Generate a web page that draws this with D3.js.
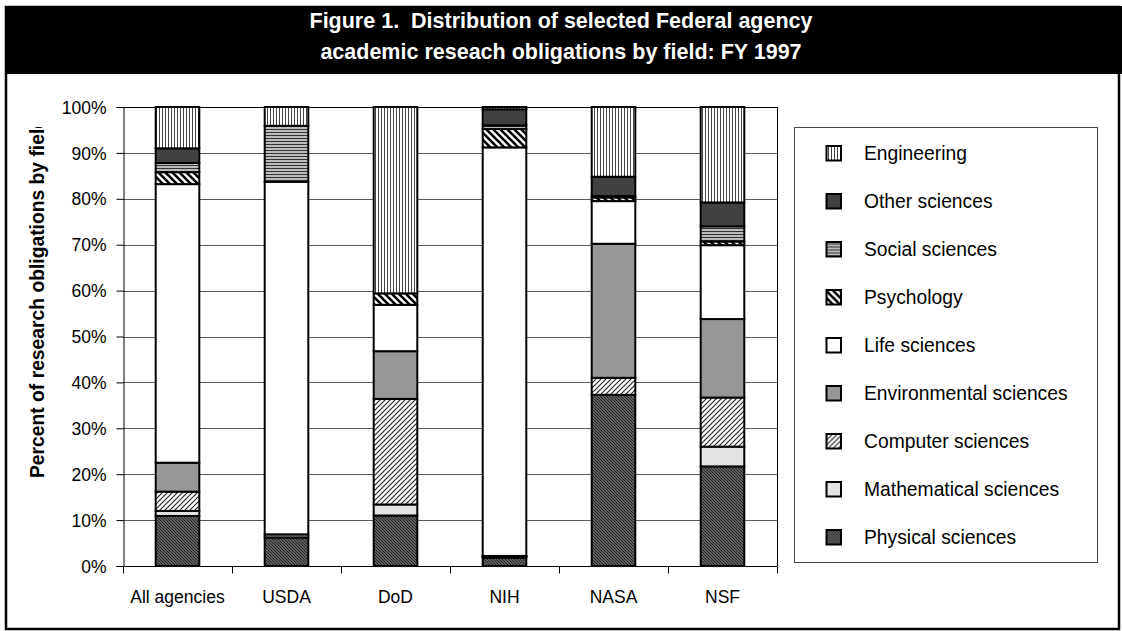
<!DOCTYPE html>
<html>
<head>
<meta charset="utf-8">
<script src="https://cdn.jsdelivr.net/npm/d3@7"></script>
<style>
  html, body { margin: 0; padding: 0; background: #fff; }
  svg { display: block; }
  text { font-family: "Liberation Sans", Arial, sans-serif; }
</style>
</head>
<body>
<svg id="chart" width="1122" height="631"></svg>
<script>
// ---------- DATA ----------
const categories = ["All agencies", "USDA", "DoD", "NIH", "NASA", "NSF"];
const fields = ["Physical sciences", "Mathematical sciences", "Computer sciences",
  "Environmental sciences", "Life sciences", "Psychology", "Social sciences",
  "Other sciences", "Engineering"];
// percent shares per agency, in the order of `categories`
const physical      = [10.9,  6.2, 11.0,  1.8, 37.3, 21.7];
const mathematical  = [ 1.1,  0.0,  2.4,  0.2,  0.0,  4.3];
const computer      = [ 4.2,  0.0, 23.0,  0.1,  3.7, 10.7];
const environmental = [ 6.3,  0.7, 10.4,  0.1, 29.2, 17.1];
const life          = [60.7, 76.8, 10.1, 89.0,  9.3, 16.1];
const psychology    = [ 2.6,  0.0,  2.5,  4.0,  0.8,  0.8];
const social        = [ 2.0, 12.2,  0.0,  0.8,  0.3,  3.3];
const other         = [ 3.2,  0.0,  0.0,  3.5,  4.2,  5.2];
const engineering   = [ 9.0,  4.1, 40.6,  0.5, 15.2, 20.8];
const yTicks = [0, 10, 20, 30, 40, 50, 60, 70, 80, 90, 100];
const titleLines = ["Figure 1.  Distribution of selected Federal agency",
                    "academic reseach obligations by field: FY 1997"];
const yTitle = "Percent of research obligations by field";

const seriesValues = [physical, mathematical, computer, environmental, life,
                      psychology, social, other, engineering];
const table = categories.map((c, i) => {
  const row = { category: c };
  fields.forEach((f, k) => row[f] = seriesValues[k][i]);
  return row;
});

// ---------- SETUP ----------
const svg = d3.select("#chart");
const defs = svg.append("defs");

function pat(id, w, h, bg, draw) {
  const p = defs.append("pattern").attr("id", id).attr("patternUnits", "userSpaceOnUse")
    .attr("width", w).attr("height", h);
  p.append("rect").attr("width", w).attr("height", h).attr("fill", bg);
  draw(p);
}
// Engineering: vertical thin lines
pat("p-eng", 3, 3, "#fff", p => p.append("rect").attr("x", 0).attr("y", 0).attr("width", 1).attr("height", 3).attr("fill", "#444"));
// Social: horizontal lines
pat("p-soc", 3, 3, "#bbb", p => p.append("rect").attr("x", 0).attr("y", 0).attr("width", 3).attr("height", 1).attr("fill", "#333"));
// Psychology: wide back-diagonal stripes
pat("p-psy", 7, 7, "#fff", p => {
  p.append("path").attr("d", "M-2,-2 L9,9 M-9,-2 L2,9 M5,-2 L16,9").attr("stroke", "#000").attr("stroke-width", 2.6);
});
// Computer: thin forward-diagonal lines
pat("p-cmp", 5, 5, "#fff", p => {
  p.append("path").attr("d", "M-1,6 L6,-1 M-6,6 L1,-1 M4,6 L11,-1").attr("stroke", "#222").attr("stroke-width", 1.1);
});
// Physical: dense dark back-diagonal hatch
pat("p-phy", 3, 3, "#7e7e7e", p => {
  p.append("path").attr("d", "M-1,-1 L4,4 M-4,-1 L1,4 M2,-1 L7,4").attr("stroke", "#1e1e1e").attr("stroke-width", 1.15);
});

const fillOf = {
  "Physical sciences": "url(#p-phy)",
  "Mathematical sciences": "#e3e3e3",
  "Computer sciences": "url(#p-cmp)",
  "Environmental sciences": "#979797",
  "Life sciences": "#ffffff",
  "Psychology": "url(#p-psy)",
  "Social sciences": "url(#p-soc)",
  "Other sciences": "#414141",
  "Engineering": "url(#p-eng)"
};

// ---------- FRAME & TITLE ----------
svg.append("rect").attr("x", 6).attr("y", 7).attr("width", 1113).attr("height", 622)
  .attr("fill", "#fff").attr("stroke", "#000").attr("stroke-width", 2.5);
svg.append("rect").attr("x", 5).attr("y", 6).attr("width", 1117).attr("height", 68).attr("fill", "#000");
svg.append("g").selectAll("text").data(titleLines).join("text")
  .attr("x", 561).attr("y", (d, i) => 28 + i * 31)
  .attr("text-anchor", "middle").attr("fill", "#fff")
  .attr("font-weight", "bold").attr("font-size", 21.5)
  .attr("xml:space", "preserve").style("white-space", "pre")
  .text(d => d);

// ---------- SCALES ----------
const x = d3.scaleBand().domain(categories).range([123, 777]).paddingInner(0.6).paddingOuter(0.3);
const y = d3.scaleLinear().domain([0, 100]).range([566, 107]);

// gridlines
svg.append("g").selectAll("line").data(yTicks.filter(t => t > 0)).join("line")
  .attr("x1", 123).attr("x2", 777)
  .attr("y1", d => Math.round(y(d)) + 0.5).attr("y2", d => Math.round(y(d)) + 0.5)
  .attr("stroke", d => d === 100 ? "#000" : "#5a5a5a").attr("stroke-width", 1);
// right border of plot area
svg.append("line").attr("x1", 777.5).attr("x2", 777.5).attr("y1", y(100)).attr("y2", y(0))
  .attr("stroke", "#000");

// ---------- BARS ----------
const stack = d3.stack().keys(fields)(table);
const layer = svg.append("g").selectAll("g").data(stack).join("g")
  .attr("fill", d => fillOf[d.key]);
layer.selectAll("rect").data(d => d).join("rect")
  .attr("x", d => x(d.data.category))
  .attr("width", x.bandwidth())
  .attr("y", d => y(d[1]))
  .attr("height", d => y(d[0]) - y(d[1]))
  .attr("stroke", "#000").attr("stroke-width", 2);

// ---------- AXES ----------
const yAxis = d3.axisLeft(y).tickValues(yTicks).tickSize(7).tickPadding(10)
  .tickFormat(d => d + "%");
const gy = svg.append("g").attr("transform", "translate(123.5,0)").call(yAxis);
gy.select(".domain").attr("stroke", "#000");
gy.selectAll(".tick line").attr("stroke", "#000");
gy.selectAll("text").attr("font-size", 17.5).attr("fill", "#000")
  .attr("font-family", "Liberation Sans, Arial, sans-serif").attr("dy", "0.35em");

const xb = d3.scaleLinear().domain([0, categories.length]).range([123, 777]);
const gx = svg.append("g").attr("transform", "translate(0,566.5)");
gx.append("line").attr("x1", 123).attr("x2", 777).attr("stroke", "#000");
gx.selectAll(".xt").data(d3.range(categories.length + 1)).join("line").attr("class", "xt")
  .attr("x1", d => Math.round(xb(d)) + 0.5).attr("x2", d => Math.round(xb(d)) + 0.5)
  .attr("y1", 0).attr("y2", 7).attr("stroke", "#000");
gx.selectAll("text").data(categories).join("text")
  .attr("x", d => x(d) + x.bandwidth() / 2).attr("y", 36.5)
  .attr("text-anchor", "middle").attr("font-size", 17.5).attr("fill", "#000")
  .text(d => d);

// y-axis title (clipped, as in the original)
defs.append("clipPath").attr("id", "ytclip").append("rect")
  .attr("x", 0).attr("y", 127).attr("width", 120).attr("height", 400);
svg.append("g").attr("clip-path", "url(#ytclip)").append("text")
  .attr("transform", "translate(44,478) rotate(-90)")
  .attr("font-weight", "bold").attr("font-size", 19.3).attr("fill", "#000")
  .text(yTitle);

// ---------- LEGEND ----------
const legendFields = fields.slice().reverse();
svg.append("rect").attr("x", 794.5).attr("y", 127.5).attr("width", 303).attr("height", 435)
  .attr("fill", "#fff").attr("stroke", "#444").attr("stroke-width", 1);
const ly = d3.scalePoint().domain(legendFields).range([153.5, 537.5]);
const li = svg.append("g").selectAll("g").data(legendFields).join("g")
  .attr("transform", d => `translate(0,${ly(d)})`);
li.append("rect").attr("x", 826.5).attr("y", -7.5).attr("width", 14.5).attr("height", 14.5)
  .attr("fill", d => fillOf[d]).attr("stroke", "#000").attr("stroke-width", 2);
li.append("text").attr("x", 864).attr("y", 0).attr("dy", "0.36em")
  .attr("font-size", 19.3).attr("fill", "#000").text(d => d);
</script>
</body>
</html>
